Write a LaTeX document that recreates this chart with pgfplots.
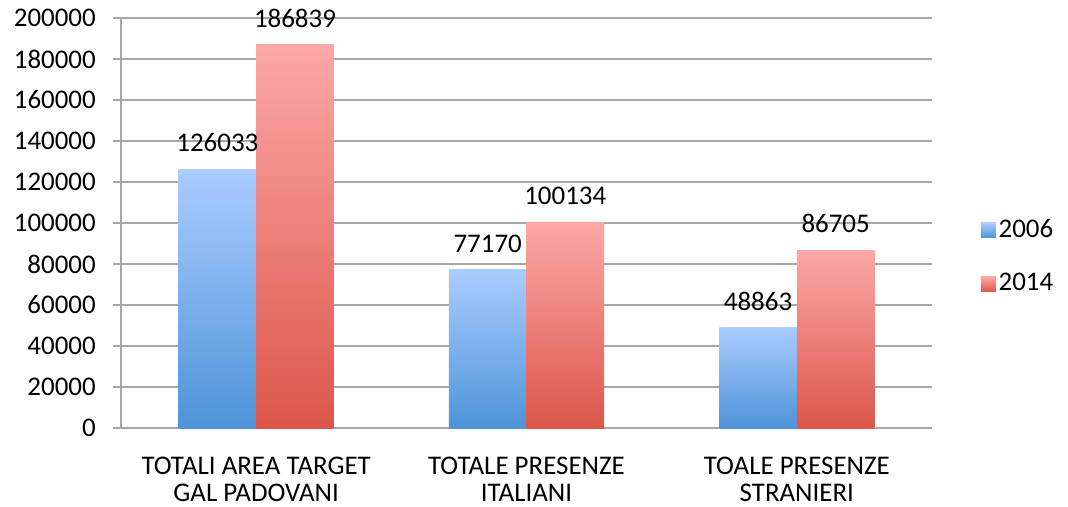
\documentclass[border=0pt]{standalone}
\usepackage{pgfplots}
\pgfplotsset{compat=1.18}
\usepackage{fontspec}
\setmainfont{Carlito}
\definecolor{btop}{RGB}{170,204,255}
\definecolor{bbot}{RGB}{78,148,216}
\definecolor{rtop}{RGB}{251,168,166}
\definecolor{rbot}{RGB}{220,86,74}
\definecolor{gridc}{RGB}{166,166,166}
\newcommand\cf{\fontsize{20.2}{20.5}\selectfont}
\begin{document}
\cf
\begin{tikzpicture}
\useasboundingbox (0,0) rectangle (801pt,380.25pt);
\begin{axis}[
  at={(90.75pt,59.25pt)}, anchor=south west,
  scale only axis, width=608.25pt, height=307.5pt,
  xmin=-0.5, xmax=2.5, ymin=0, ymax=200000,
  ytick={0,20000,...,200000},
  scaled y ticks=false,
  /pgf/number format/.cd, fixed, precision=0, 1000 sep={}, assume math mode=true, /pgfplots/.cd,
  ymajorgrids, grid style={gridc, line width=1pt},
  axis x line*=bottom, axis y line*=left,
  axis line style={gridc, line width=1pt},
  y axis line style={-}, x axis line style={-},
  tick style={gridc, line width=1pt},
  tick align=outside,
  major tick length=6pt,
  xtick={0,1,2},
  xticklabels={{TOTALI AREA TARGET\\GAL PADOVANI},{TOTALE PRESENZE\\ITALIANI},{TOALE PRESENZE\\STRANIERI}},
  x tick style={draw=none},
  minor xtick={-0.5,0.5,1.5,2.5},
  minor x tick style={gridc, line width=1pt},
  minor tick length=6pt,
  xticklabel style={align=center, font=\cf, yshift=-8.5pt},
  yticklabel style={font=\cf, xshift=-6pt},
  bar width=0.287,
  point meta=y,
  nodes near coords={\pgfmathprintnumber[fixed,precision=0,1000 sep={},assume math mode=true]{\pgfplotspointmeta}},
  nodes near coords style={font=\cf, anchor=south, inner sep=0pt, yshift=13pt},
  legend style={draw=none, fill=none, at={(1.06,0.417)}, anchor=west,
    font=\cf, row sep=20pt, inner sep=0pt,
    /tikz/every even column/.append style={column sep=9pt}},
  legend cell align=left,
  legend image code/.code={\path[#1, draw=none] (0pt,-5.6pt) rectangle (11.25pt,5.6pt);},
  blue bar/.style={ybar, bar shift=0, draw=none, top color=btop, bottom color=bbot},
  red bar/.style={ybar, bar shift=0, draw=none, top color=rtop, bottom color=rbot},
]
\addplot[blue bar] coordinates {(-0.1435,126033)};
\addplot[red bar] coordinates {(0.1435,186839)};
\addplot[blue bar, forget plot] coordinates {(0.8565,77170)};
\addplot[red bar, forget plot] coordinates {(1.1435,100134)};
\addplot[blue bar, forget plot] coordinates {(1.8565,48863)};
\addplot[red bar, forget plot] coordinates {(2.1435,86705)};
\legend{2006,2014}
\end{axis}
\end{tikzpicture}
\end{document}
